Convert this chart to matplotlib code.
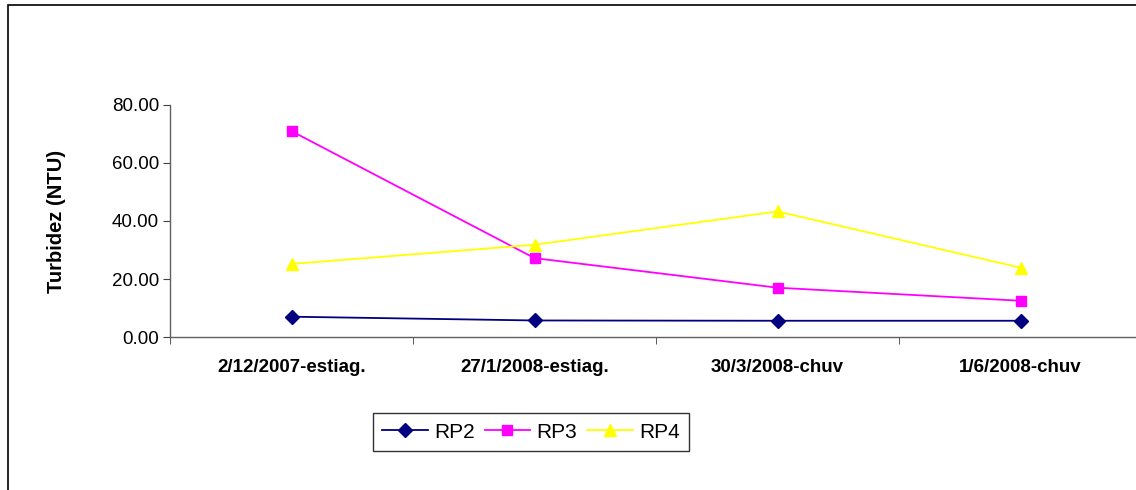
import matplotlib
matplotlib.use("Agg")
from matplotlib import pyplot as plt
from matplotlib.patches import Rectangle
import numpy as np

plt.rcParams['font.family'] = ['Liberation Sans', 'DejaVu Sans']

categories = ['2/12/2007-estiag.', '27/1/2008-estiag.', '30/3/2008-chuv', '1/6/2008-chuv']
rp2 = [7.0, 5.7, 5.6, 5.6]
rp3 = [71.0, 27.2, 17.0, 12.5]
rp4 = [25.2, 31.8, 43.3, 23.9]
y_ticks = [0, 20, 40, 60, 80]

W, H = 1136, 490
fig = plt.figure(figsize=(W / 100, H / 100), dpi=100)

# outer chart border (goes off the right and bottom edge)
fig.patches.append(Rectangle((8 / W, -0.1), 1.2, 1 - 5 / H + 0.1, transform=fig.transFigure,
                             fill=False, edgecolor='black', linewidth=1.2))

ax = fig.add_axes([170 / W, (H - 337) / H, 972 / W, 232 / H])
x = np.arange(len(categories))

ax.plot(x, rp2, color='#000080', marker='D', markersize=7, linewidth=1.3, label='RP2')
ax.plot(x, rp3, color='#FF00FF', marker='s', markersize=7.5, linewidth=1.3, label='RP3')
ax.plot(x, rp4, color='#FFFF00', marker='^', markersize=9, linewidth=1.3, label='RP4')

ax.set_xlim(-0.5, len(categories) - 0.5)
ax.set_ylim(0, 80)
ax.set_yticks(y_ticks)
ax.set_yticklabels(['%.2f' % v for v in y_ticks], fontsize=13.5)
ax.set_xticks(x)
ax.set_xticklabels(categories, fontsize=13.5, fontweight='bold')
ax.set_xticks(np.arange(len(categories) + 1) - 0.5, minor=True)
ax.tick_params(axis='x', which='major', length=0, pad=16)
ax.tick_params(axis='x', which='minor', length=5, direction='out', color='#404040')
ax.tick_params(axis='y', length=5, direction='out', color='#404040', pad=3)

for s in ['top', 'right']:
    ax.spines[s].set_visible(False)
for s in ['left', 'bottom']:
    ax.spines[s].set_color('#606060')
    ax.spines[s].set_linewidth(1.0)

ax.set_ylabel('Turbidez (NTU)', fontsize=14.5, fontweight='bold')
ax.yaxis.set_label_coords((66 - 170) / 972, 0.5)

leg = ax.legend(loc='center', bbox_to_anchor=(531 / W, (H - 432) / H),
                bbox_transform=fig.transFigure, ncol=3, frameon=True, fancybox=False,
                fontsize=15, handlelength=2.2, columnspacing=0.45, handletextpad=0.3,
                borderpad=0.45)
leg.get_frame().set_edgecolor('black')
leg.get_frame().set_linewidth(1.0)

fig.savefig('out.png', dpi=100)
